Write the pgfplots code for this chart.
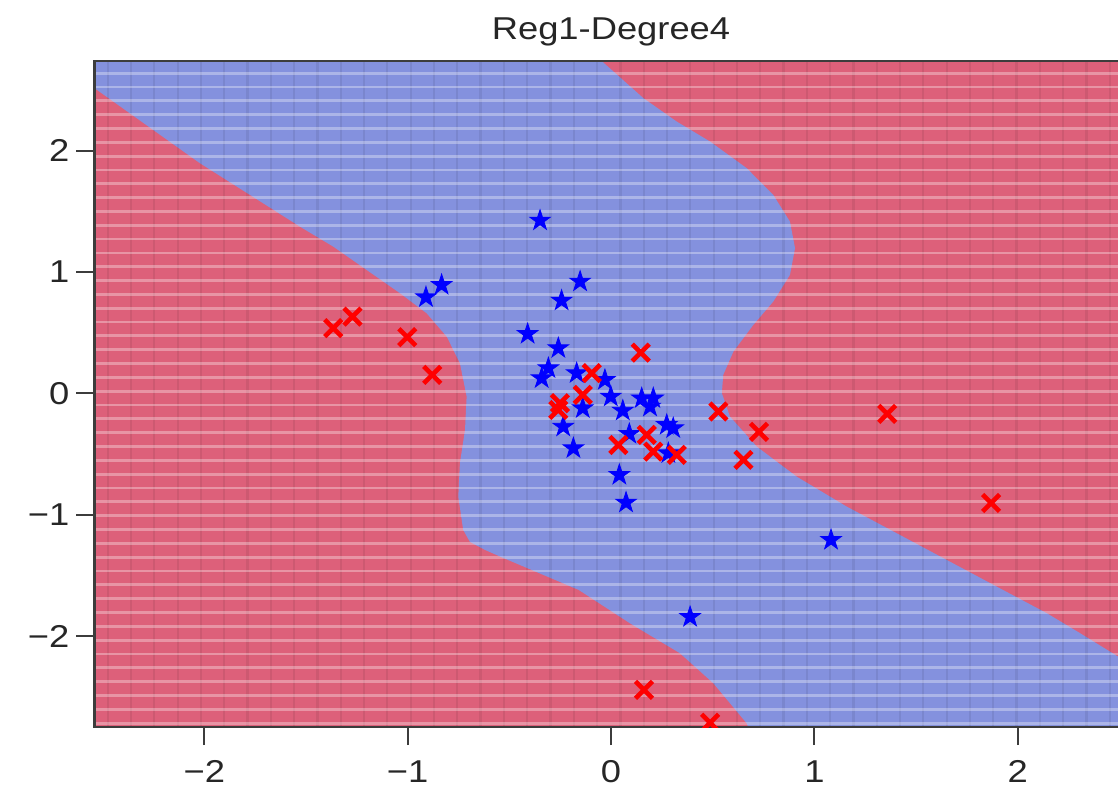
\documentclass[border=0pt]{standalone}
\usepackage{pgfplots}
\pgfplotsset{compat=1.18}
\usepackage{fontspec}
\setmainfont{Liberation Sans}[FakeStretch=1.15]
\definecolor{regred}{RGB}{221,96,122}
\definecolor{regblue}{RGB}{132,145,222}
\definecolor{txt}{RGB}{38,38,38}
\pgfdeclareplotmark{fstar}{%
 \pgfpathmoveto{\pgfpointpolar{90}{\pgfplotmarksize}}%
 \pgfpathlineto{\pgfpointpolar{126}{0.382\pgfplotmarksize}}%
 \pgfpathlineto{\pgfpointpolar{162}{\pgfplotmarksize}}%
 \pgfpathlineto{\pgfpointpolar{198}{0.382\pgfplotmarksize}}%
 \pgfpathlineto{\pgfpointpolar{234}{\pgfplotmarksize}}%
 \pgfpathlineto{\pgfpointpolar{270}{0.382\pgfplotmarksize}}%
 \pgfpathlineto{\pgfpointpolar{306}{\pgfplotmarksize}}%
 \pgfpathlineto{\pgfpointpolar{342}{0.382\pgfplotmarksize}}%
 \pgfpathlineto{\pgfpointpolar{18}{\pgfplotmarksize}}%
 \pgfpathlineto{\pgfpointpolar{54}{0.382\pgfplotmarksize}}%
 \pgfpathclose\pgfusepathqfillstroke}
\begin{document}
\begin{tikzpicture}
\begin{axis}[
  set layers,
  scale only axis, width=516.5pt, height=333pt,
  at={(0,0)}, anchor=south west,
  xmin=-2.54, xmax=2.54, ymin=-2.75, ymax=2.74,
  xtick={-2,-1,0,1,2}, xticklabels={−2,−1,0,1,2},
  ytick={-2,-1,0,1,2}, yticklabels={−2,−1,0,1,2},
  tick pos=left, tick align=outside, major tick length=9pt,
  major tick style={line width=1pt, color=txt!90},
  minor xtick={-2.475,-2.3604,...,2.54},
  minor ytick={-2.718,-2.604,...,2.72},
  minor tick length=0pt,
  xminorgrids=true, yminorgrids=true,
  minor x grid style={black, opacity=0.07, line width=1.1pt},
  minor y grid style={white, opacity=0.33, line width=1.4pt},
  axis line style={line width=1.25pt, color=txt!90},
  ticklabel style={font=\fontsize{15.8}{18}\selectfont, text=txt},
  xticklabel style={anchor=base, yshift=-18.5pt},
  title={Reg1-Degree4},
  title style={font=\fontsize{15.8}{18}\selectfont, text=txt, at={(0.5,1)}, anchor=base, yshift=4.5pt},
  clip marker paths=true,
]
\addplot[on layer=axis background, fill=regred, draw=none] coordinates {(-2.54,-2.75) (2.54,-2.75) (2.54,2.74) (-2.54,2.74)} -- cycle;
\addplot[on layer=axis background, fill=regblue, draw=none] coordinates {
(-2.54,2.516) (-2.54,2.74) (-0.046,2.74) (0.159,2.434) (0.323,2.241) (0.487,2.076) (0.667,1.857) (0.798,1.636) (0.880,1.416) (0.905,1.197) (0.880,0.977) (0.798,0.757) (0.700,0.565) (0.602,0.345) (0.552,0.153) (0.545,0.002) (0.585,-0.191) (0.717,-0.439) (0.913,-0.686) (1.159,-0.933) (1.405,-1.153) (1.651,-1.373) (1.897,-1.593) (2.143,-1.812) (2.307,-1.977) (2.494,-2.170) (2.54,-2.218) (2.54,-2.75) (0.674,-2.75) (0.667,-2.719) (0.503,-2.389) (0.339,-2.142) (0.093,-1.895) (-0.159,-1.620) (-0.546,-1.345) (-0.620,-1.290) (-0.694,-1.224) (-0.727,-1.125) (-0.751,-0.851) (-0.743,-0.575) (-0.718,-0.301) (-0.710,-0.026) (-0.743,0.249) (-0.808,0.468) (-0.907,0.661) (-1.038,0.826) (-1.202,1.018) (-1.366,1.210) (-1.530,1.375) (-2.022,1.898)
} -- cycle;
\addplot[only marks, mark=fstar, mark size=5.4pt, mark options={fill=blue, draw=blue, line width=0.4pt}] coordinates {
(-0.349,1.425) (-0.833,0.894) (-0.910,0.793) (-0.152,0.922) (-0.243,0.765) (-0.410,0.490) (-0.259,0.373) (-0.308,0.208) (-0.341,0.125) (-0.169,0.167) (-0.030,0.111) (-0.001,-0.026) (-0.139,-0.122) (0.058,-0.142) (0.151,-0.040) (0.208,-0.040) (0.192,-0.109) (0.274,-0.260) (0.306,-0.287) (0.282,-0.493) (0.090,-0.334) (-0.235,-0.274) (-0.185,-0.452) (0.041,-0.672) (0.074,-0.900) (1.082,-1.208) (0.389,-1.843)
};
\addplot[only marks, mark=x, mark size=6pt, mark options={draw=red, line width=2.3pt}] coordinates {
(-1.366,0.538) (-1.271,0.633) (-1.002,0.463) (-0.879,0.153) (0.146,0.336) (-0.095,0.167) (-0.139,-0.012) (-0.251,-0.081) (-0.259,-0.136) (0.036,-0.425) (0.176,-0.342) (0.208,-0.480) (0.323,-0.507) (0.528,-0.150) (0.651,-0.548) (0.728,-0.317) (1.358,-0.169) (1.869,-0.903) (0.162,-2.444) (0.487,-2.715)
};
\end{axis}
\pgfresetboundingbox
\useasboundingbox (-47.25pt,-32.5pt) rectangle (511.75pt,363.5pt);
\end{tikzpicture}
\end{document}
